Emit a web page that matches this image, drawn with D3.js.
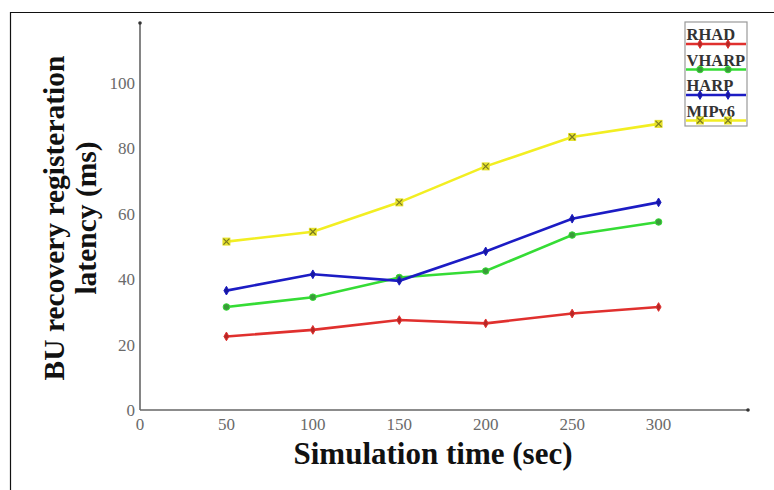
<!DOCTYPE html>
<html>
<head>
<meta charset="utf-8">
<script src="https://cdn.jsdelivr.net/npm/d3@7"></script>
<style>
  body { margin: 0; background: #fff; }
  svg { display: block; }
</style>
</head>
<body>
<div id="chart"></div>
<script>
// data
const times = [50, 100, 150, 200, 250, 300];
const rhad = [22.5, 24.5, 27.5, 26.5, 29.5, 31.5];
const vharp = [31.5, 34.5, 40.5, 42.5, 53.5, 57.5];
const harp = [36.5, 41.5, 39.5, 48.5, 58.5, 63.5];
const mipv6 = [51.5, 54.5, 63.5, 74.5, 83.5, 87.5];
const xTicks = [0, 50, 100, 150, 200, 250, 300];
const yTicks = [0, 20, 40, 60, 80, 100];

const series = [
  { name: "RHAD", values: rhad, color: "#e0302e", marker: "diamond" },
  { name: "VHARP", values: vharp, color: "#35dc35", marker: "circle" },
  { name: "HARP", values: harp, color: "#1c1cc4", marker: "diamond" },
  { name: "MIPv6", values: mipv6, color: "#f2ee22", marker: "x" }
];

const W = 774, H = 490;
const svg = d3.select("#chart").append("svg")
  .attr("width", W).attr("height", H);

// outer frame (cropped at right/bottom)
svg.append("path")
  .attr("d", "M10.5,490 V12.5 H774")
  .attr("fill", "none").attr("stroke", "#111").attr("stroke-width", 1.2);

const x = d3.scaleLinear().domain([0, 350]).range([140, 745]);
const y = d3.scaleLinear().domain([0, 100]).range([410, 83]);

const serif = "'Liberation Serif', 'DejaVu Serif', serif";

// axes
svg.append("line")
  .attr("x1", x(0)).attr("x2", 748)
  .attr("y1", y(0)).attr("y2", y(0))
  .attr("stroke", "#666").attr("stroke-width", 1.6);
svg.append("line")
  .attr("x1", x(0)).attr("x2", x(0))
  .attr("y1", y(0)).attr("y2", 23)
  .attr("stroke", "#666").attr("stroke-width", 1.6);
svg.append("circle").attr("cx", 748).attr("cy", y(0)).attr("r", 1.8).attr("fill", "#333");
svg.append("circle").attr("cx", x(0)).attr("cy", 23).attr("r", 1.8).attr("fill", "#333");

svg.selectAll(".xt").data(xTicks).enter().append("text")
  .attr("x", d => x(d)).attr("y", 430)
  .attr("text-anchor", "middle")
  .style("font-family", serif).style("font-size", "17px").style("fill", "#6a6a6a")
  .text(d => d);

svg.selectAll(".yt").data(yTicks).enter().append("text")
  .attr("x", x(0) - 5).attr("y", d => y(d) + 6)
  .attr("text-anchor", "end")
  .style("font-family", serif).style("font-size", "17px").style("fill", "#6a6a6a")
  .text(d => d);

// axis titles
svg.append("text")
  .attr("x", 433).attr("y", 464)
  .attr("text-anchor", "middle")
  .style("font-family", serif).style("font-weight", "bold").style("font-size", "31px")
  .style("fill", "#111")
  .text("Simulation time (sec)");

const yTitle = svg.append("g").attr("transform", "translate(0,218) rotate(-90)");
yTitle.append("text")
  .attr("x", 0).attr("y", 64)
  .attr("text-anchor", "middle")
  .style("font-family", serif).style("font-weight", "bold").style("font-size", "29.5px")
  .style("fill", "#111")
  .text("BU recovery  registeration");
yTitle.append("text")
  .attr("x", 0).attr("y", 96)
  .attr("text-anchor", "middle")
  .style("font-family", serif).style("font-weight", "bold").style("font-size", "29.5px")
  .style("fill", "#111")
  .text("latency (ms)");

function drawMarker(g, cx, cy, s) {
  const m = g.append("g").attr("transform", `translate(${cx},${cy})`);
  if (s.marker === "circle") {
    m.append("circle").attr("r", 3.3).attr("fill", "#3a9a3a").attr("stroke", s.color).attr("stroke-width", 1);
  } else if (s.marker === "diamond") {
    m.append("path").attr("d", d3.symbol().type(d3.symbolDiamond).size(22))
      .attr("fill", d3.color(s.color).darker(0.6)).attr("stroke", s.color).attr("stroke-width", 1);
  } else {
    m.append("rect").attr("x", -4).attr("y", -4).attr("width", 8).attr("height", 8)
      .attr("fill", "#e6e22a");
    m.append("path").attr("d", "M-3,-3L3,3M-3,3L3,-3")
      .attr("stroke", "#7a7a20").attr("stroke-width", 1.2);
  }
}

const line = d3.line().x((d, i) => x(times[i])).y(d => y(d));

series.forEach(s => {
  svg.append("path")
    .attr("d", line(s.values))
    .attr("fill", "none").attr("stroke", s.color).attr("stroke-width", 2.6);
  s.values.forEach((v, i) => drawMarker(svg, x(times[i]), y(v), s));
});

// legend
const lg = svg.append("g").attr("transform", "translate(685,22)");
lg.append("rect").attr("x", 0).attr("y", 0).attr("width", 62).attr("height", 104)
  .attr("fill", "#fff").attr("stroke", "#999").attr("stroke-width", 1.2);
series.forEach((s, i) => {
  const ty = 18 + i * 25.5;
  lg.append("text")
    .attr("x", 1.5).attr("y", ty)
    .style("font-family", serif).style("font-weight", "bold").style("font-size", "16.5px")
    .style("fill", "#333")
    .text(s.name);
  lg.append("line")
    .attr("x1", 1).attr("x2", 61).attr("y1", ty + 4).attr("y2", ty + 4)
    .attr("stroke", s.color).attr("stroke-width", 2.4);
  drawMarker(lg, 15, ty + 4, s);
  drawMarker(lg, 43, ty + 4, s);
});
</script>
</body>
</html>
